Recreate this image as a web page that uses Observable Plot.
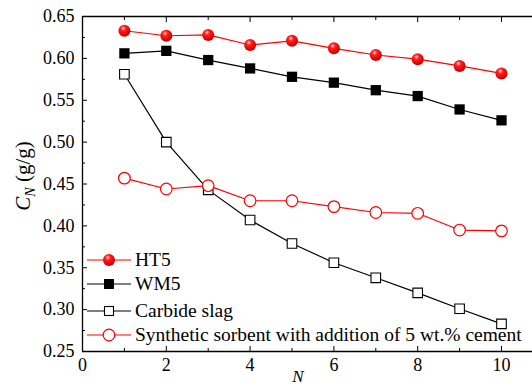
<!DOCTYPE html>
<html><head><meta charset="utf-8">
<script src="https://cdn.jsdelivr.net/npm/d3@7"></script>
<script src="https://cdn.jsdelivr.net/npm/@observablehq/plot@0.6"></script>
<style>
body{margin:0;background:#fff;}
#wrap{position:relative;width:532px;height:387px;font-family:"Liberation Serif","Times New Roman",serif;}
#legend{position:absolute;left:0;top:0;font-size:19.5px;color:#000;}
.row{position:absolute;left:85px;display:flex;align-items:center;height:24px;white-space:nowrap;}
.row svg{margin-right:3px;}
</style>
</head><body>
<svg width="0" height="0" style="position:absolute">
<defs>
<radialGradient id="sphere" cx="0.4" cy="0.32" r="0.7" fx="0.4" fy="0.3">
<stop offset="0" stop-color="#ffd0d0"/>
<stop offset="0.3" stop-color="#ff2020"/>
<stop offset="0.8" stop-color="#e00000"/>
<stop offset="1" stop-color="#b00000"/>
</radialGradient>
</defs>
</svg>
<div id="wrap"><div id="chart"></div><div id="legend"></div></div>
<script>
const cycles = [1,2,3,4,5,6,7,8,9,10];
const ht5 = [0.633,0.627,0.628,0.616,0.621,0.612,0.604,0.599,0.591,0.582];
const wm5 = [0.606,0.609,0.598,0.588,0.578,0.571,0.562,0.555,0.539,0.526];
const carbide = [0.581,0.500,0.443,0.407,0.379,0.356,0.338,0.320,0.301,0.283];
const synthetic = [0.457,0.444,0.448,0.430,0.430,0.423,0.416,0.415,0.395,0.394];
const seriesNames = ["HT5","WM5","Carbide slag","Synthetic sorbent with addition of 5 wt.% cement"];
const xTicks = [0,2,4,6,8,10];
const xMinor = [1,3,5,7,9];
const yTicks = [0.25,0.30,0.35,0.40,0.45,0.50,0.55,0.60,0.65];
const yMinor = [0.275,0.325,0.375,0.425,0.475,0.525,0.575,0.625];

const mk = (vals) => cycles.map((n,i)=>({N:n, C:vals[i]}));
const dHT = mk(ht5), dWM = mk(wm5), dCS = mk(carbide), dSY = mk(synthetic);

const plot = Plot.plot({
  width: 532, height: 387,
  marginLeft: 82, marginRight: 0, marginTop: 16, marginBottom: 36,
  style: {fontFamily: '"Liberation Serif","Times New Roman",serif', fontSize: "18px", color: "#000", background: "transparent"},
  x: {domain: [0, 10.74], label: null},
  y: {domain: [0.25, 0.65], label: null},
  marks: [
    Plot.ruleX([0], {stroke: "#000", strokeWidth: 1.3}),
    Plot.ruleY([0.25], {stroke: "#000", strokeWidth: 1.3}),
    Plot.ruleY([0.65], {stroke: "#000", strokeWidth: 1.3}),
    Plot.axisY(yTicks, {anchor: "left", tickSize: -5, tickPadding: 13, tickFormat: d3.format(".2f"), fontSize: 18, label: null}),
    Plot.axisY(yMinor, {anchor: "left", tickSize: -3, tickFormat: () => "", label: null}),
    Plot.axisX(xTicks, {anchor: "bottom", tickSize: -5, tickPadding: 12, tickFormat: d3.format("d"), fontSize: 18, label: null}),
    Plot.axisX(xMinor, {anchor: "bottom", tickSize: -3, tickFormat: () => "", label: null}),
    Plot.axisX(xTicks, {anchor: "top", tickSize: -5, tickFormat: () => "", label: null}),
    Plot.axisX(xMinor, {anchor: "top", tickSize: -3, tickFormat: () => "", label: null}),
    Plot.line(dHT, {x: "N", y: "C", stroke: "#ff0000", strokeWidth: 1.2}),
    Plot.line(dWM, {x: "N", y: "C", stroke: "#000", strokeWidth: 1.2}),
    Plot.line(dCS, {x: "N", y: "C", stroke: "#000", strokeWidth: 1.2}),
    Plot.line(dSY, {x: "N", y: "C", stroke: "#ff0000", strokeWidth: 1.2}),
    Plot.dot(dHT, {x: "N", y: "C", r: 6, fill: "url(#sphere)", stroke: "none"}),
    Plot.dot(dWM, {x: "N", y: "C", r: 5.8, symbol: "square", fill: "#000", stroke: "none"}),
    Plot.dot(dCS, {x: "N", y: "C", r: 5.4, symbol: "square", fill: "#fff", stroke: "#000", strokeWidth: 1.1}),
    Plot.dot(dSY, {x: "N", y: "C", r: 5.8, fill: "#fff", stroke: "#ff0000", strokeWidth: 1.2})
  ]
});
document.getElementById("chart").appendChild(plot);

// axis titles
const svg = d3.select(plot);
const yl = svg.append("text")
  .attr("transform", "translate(30,176) rotate(-90)")
  .attr("text-anchor", "middle")
  .attr("font-size", 21).attr("fill", "#000");
yl.append("tspan").attr("font-style", "italic").text("C");
yl.append("tspan").attr("font-style", "italic").attr("font-size", 14).attr("dy", 5).text("N");
yl.append("tspan").attr("dy", -5).text(" (g/g)");
svg.append("text").attr("x", 298).attr("y", 382).attr("text-anchor", "middle")
  .attr("font-size", 17).attr("font-style", "italic").attr("fill", "#000").text("N");

// legend
const legendStyles = [
  {stroke: "#ff0000", cy: 260, sym: '<circle cx="24" cy="10" r="6" fill="url(#sphere)"/>'},
  {stroke: "#000", cy: 284, sym: '<rect x="19" y="5" width="10" height="10" fill="#000"/>'},
  {stroke: "#000", cy: 311, sym: '<rect x="19.5" y="5.5" width="9" height="9" fill="#fff" stroke="#000" stroke-width="1.1"/>'},
  {stroke: "#ff0000", cy: 335, sym: '<circle cx="24" cy="10" r="5.8" fill="#fff" stroke="#ff0000" stroke-width="1.2"/>'}
];
const leg = document.getElementById("legend");
seriesNames.forEach((name, i) => {
  const row = document.createElement("div");
  row.className = "row";
  row.style.top = (legendStyles[i].cy - 12) + "px";
  row.innerHTML = `<svg width="47" height="20"><line x1="2" x2="46" y1="10" y2="10" stroke="${legendStyles[i].stroke}" stroke-width="1.2"/>${legendStyles[i].sym}</svg><span>${name}</span>`;
  leg.appendChild(row);
});
</script>
</body></html>
